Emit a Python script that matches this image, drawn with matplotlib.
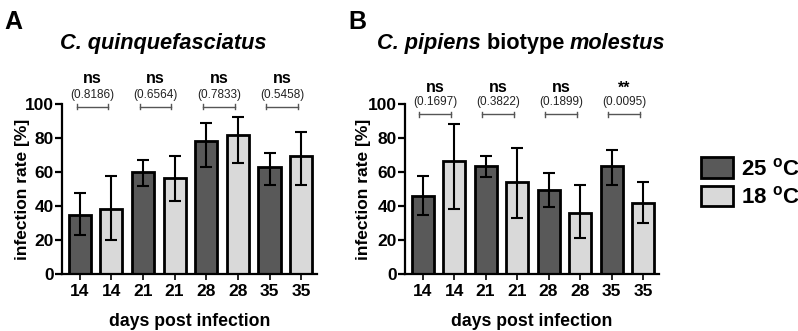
import numpy as np
import matplotlib
matplotlib.use("Agg")
import matplotlib.pyplot as plt
from matplotlib.patches import Patch

plt.rcParams['font.family'] = ['Liberation Sans', 'DejaVu Sans']
plt.rcParams['font.weight'] = 'bold'
plt.rcParams['mathtext.fontset'] = 'custom'
plt.rcParams['mathtext.rm'] = 'Liberation Sans:bold'
plt.rcParams['mathtext.bf'] = 'Liberation Sans:bold'

days = ["14", "14", "21", "21", "28", "28", "35", "35"]
temps = ["25", "18", "25", "18", "25", "18", "25", "18"]

# C. quinquefasciatus: rate, lower and upper CI bound
quin_rate = [34.9, 38.3, 60.1, 56.4, 78.2, 81.8, 62.7, 69.6]
quin_low = [23.0, 20.2, 51.8, 42.9, 62.7, 65.5, 52.4, 52.2]
quin_high = [47.9, 57.7, 67.1, 69.5, 89.1, 92.1, 71.4, 83.6]
quin_p = ["0.8186", "0.6564", "0.7833", "0.5458"]
quin_sig = ["ns", "ns", "ns", "ns"]

# C. pipiens biotype molestus
mol_rate = [46.0, 66.5, 63.7, 54.2, 49.7, 35.9, 63.3, 41.8]
mol_low = [34.7, 38.3, 57.2, 32.7, 39.5, 21.1, 52.3, 29.8]
mol_high = [57.4, 88.0, 69.2, 74.0, 59.2, 52.5, 72.8, 54.4]
mol_p = ["0.1697", "0.3822", "0.1899", "0.0095"]
mol_sig = ["ns", "ns", "ns", "**"]

dark = "#595959"
light = "#d9d9d9"
colors = [dark if t == "25" else light for t in temps]

fig = plt.figure(figsize=(7.98, 3.31), dpi=100)
axA = fig.add_axes([0.0777, 0.172, 0.3195, 0.5136])
axB = fig.add_axes([0.5075, 0.172, 0.318, 0.5136])


def panel(ax, rate, low, high, pvals, sigs, bracket_y, p_y, s_y, ylab_x):
    x = np.arange(len(rate))
    rate = np.array(rate)
    yerr = [rate - np.array(low), np.array(high) - rate]
    ax.bar(x, rate, width=0.7, color=colors, edgecolor="black", linewidth=2, zorder=2)
    ax.errorbar(x, rate, yerr=yerr, fmt="none", ecolor="black", elinewidth=1.5,
                capsize=4, capthick=1.5, zorder=3)
    ax.set_xlim(-0.56, 7.5)
    ax.set_ylim(0, 100)
    ax.set_yticks([0, 20, 40, 60, 80, 100])
    ax.set_xticks(x)
    ax.set_xticklabels(days)
    ax.spines[['top', 'right']].set_visible(False)
    ax.spines[['left', 'bottom']].set_linewidth(1.6)
    ax.tick_params(axis='y', length=5, width=1.6, labelsize=12.5, pad=1)
    ax.tick_params(axis='x', length=4, width=1.2, labelsize=12.5, pad=3)
    for lab in ax.get_xticklabels() + ax.get_yticklabels():
        lab.set_fontweight('bold')
    ax.set_ylabel("infection rate [%]", fontsize=12.5, fontweight='bold')
    ax.yaxis.set_label_coords(ylab_x, 0.5)
    ax.set_xlabel("days post infection", fontsize=12.7, fontweight='bold', labelpad=10)
    for i in range(4):
        x0, x1 = 2 * i - 0.1, 2 * i + 1 - 0.1
        ax.plot([x0, x1], [bracket_y, bracket_y], color="#555555", lw=1,
                clip_on=False)
        for xx in (x0, x1):
            ax.plot([xx, xx], [bracket_y - 1.5, bracket_y + 1.5], color="#555555",
                    lw=1, clip_on=False)
        xm = (x0 + x1) / 2
        ax.text(xm, p_y, "(" + pvals[i] + ")", ha='center', va='center',
                fontsize=8.5, fontweight='normal', color="#222222")
        ax.text(xm, s_y, sigs[i], ha='center', va='center', fontsize=11.5,
                fontweight='bold')


panel(axA, quin_rate, quin_low, quin_high, quin_p, quin_sig, 98.5, 105.5, 115, -0.127)
panel(axB, mol_rate, mol_low, mol_high, mol_p, mol_sig, 94, 101.5, 109.5, -0.135)

# panel letters
fig.text(0.006, 0.97, "A", fontsize=18, fontweight='bold', va='top')
fig.text(0.436, 0.97, "B", fontsize=18, fontweight='bold', va='top')

# titles
fig.text(0.2045, 0.868, "C. quinquefasciatus", fontsize=15.7, fontweight='bold',
         style='italic', ha='center', va='center')

renderer = fig.canvas.get_renderer()
parts = [("C. pipiens", 'italic'), (" biotype ", 'normal'), ("molestus", 'italic')]
xpos = 0.4724
for txt, st in parts:
    t = fig.text(xpos, 0.868, txt, fontsize=15.7, fontweight='bold', style=st,
                 ha='left', va='center')
    bb = t.get_window_extent(renderer)
    xpos += bb.width / fig.bbox.width

handles = [Patch(facecolor=dark, edgecolor="black", linewidth=2),
           Patch(facecolor=light, edgecolor="black", linewidth=2)]
fig.legend(handles, [r"25 $^{\mathrm{o}}$C", r"18 $^{\mathrm{o}}$C"],
           loc='upper left', bbox_to_anchor=(0.878, 0.525), frameon=False,
           fontsize=16, handlelength=1.45, handleheight=1.05, handletextpad=0.35,
           labelspacing=0.25, borderaxespad=0, borderpad=0)
for t in fig.legends[0].get_texts():
    t.set_fontweight('bold')

fig.savefig("out.png", dpi=100)
